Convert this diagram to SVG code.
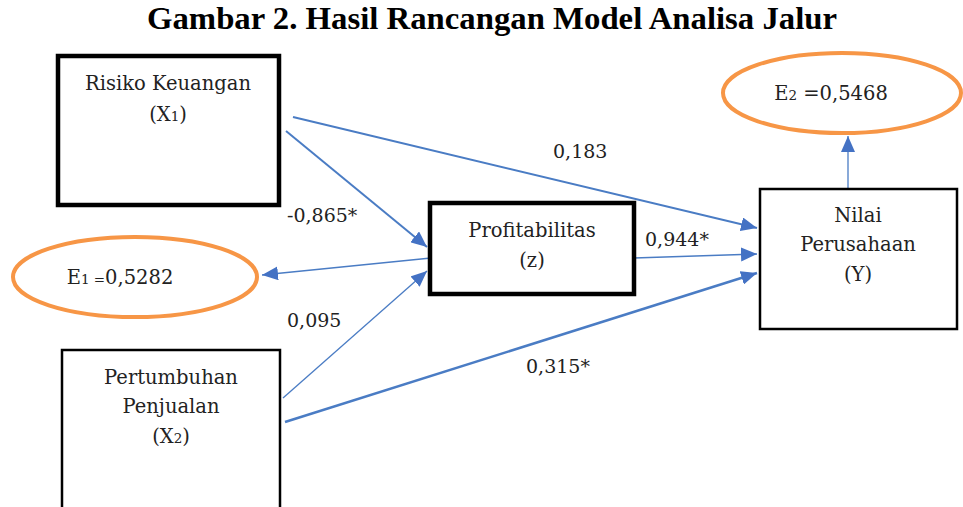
<svg xmlns="http://www.w3.org/2000/svg" width="963" height="507" viewBox="0 0 963 507">
<style>
.t{font-family:"DejaVu Serif","Liberation Serif",serif;font-size:19.5px;fill:#222;text-anchor:middle}
.lbl{font-family:"DejaVu Serif","Liberation Serif",serif;font-size:19px;fill:#222}
.sub{font-size:13.5px}
.title{font-family:"Liberation Serif","DejaVu Serif",serif;font-size:31px;font-weight:bold;fill:#000;text-anchor:middle}
.thick{fill:#fff;stroke:#000;stroke-width:4.5}
.thin{fill:#fff;stroke:#000;stroke-width:2.5}
.ell{fill:#fff;stroke:#F79646;stroke-width:4}
.c{stroke:#4A7CC4;fill:none;marker-end:url(#ah)}
</style>
<defs>
<marker id="ah" markerUnits="userSpaceOnUse" markerWidth="18" markerHeight="14" refX="16" refY="7" orient="auto">
<path d="M0,0 L16,7 L0,14 Z" fill="#4472C4"/>
</marker>
</defs>
<rect width="963" height="507" fill="#fff"/>
<text class="title" x="492" y="29" textLength="690" lengthAdjust="spacingAndGlyphs">Gambar 2. Hasil Rancangan Model Analisa Jalur</text>

<g id="connectors">
<line class="c" x1="293" y1="117" x2="757" y2="228" stroke-width="2"/>
<line class="c" x1="286" y1="131" x2="427" y2="247" stroke-width="2"/>
<line class="c" x1="431" y1="258" x2="262" y2="275" stroke-width="1.3"/>
<line class="c" x1="283" y1="398" x2="427" y2="271" stroke-width="1.3"/>
<line class="c" x1="634" y1="258" x2="757" y2="254" stroke-width="1.5"/>
<line class="c" x1="285" y1="422" x2="757" y2="273" stroke-width="2.5"/>
<line class="c" x1="848" y1="188" x2="848" y2="136" stroke-width="1.3"/>
</g>

<g id="x1">
<rect class="thick" x="58" y="56" width="221" height="149"/>
<text class="t" x="168" y="90">Risiko Keuangan</text>
<text class="t" x="168" y="121">(X<tspan class="sub">1</tspan>)</text>
</g>

<g id="x2">
<rect class="thin" x="62" y="350" width="218" height="170"/>
<text class="t" x="171" y="384">Pertumbuhan</text>
<text class="t" x="171" y="413">Penjualan</text>
<text class="t" x="171" y="443">(X<tspan class="sub">2</tspan>)</text>
</g>

<g id="z">
<rect class="thick" x="430" y="203" width="204" height="91"/>
<text class="t" x="532" y="237">Profitabilitas</text>
<text class="t" x="532" y="267">(z)</text>
</g>

<g id="y">
<rect class="thin" x="760" y="189" width="197" height="140"/>
<text class="t" x="858" y="222">Nilai</text>
<text class="t" x="858" y="251">Perusahaan</text>
<text class="t" x="858" y="281">(Y)</text>
</g>

<g id="e1">
<ellipse class="ell" cx="135" cy="277" rx="122" ry="40"/>
<text class="t" x="120" y="284">E<tspan class="sub">1 =</tspan>0,5282</text>
</g>

<g id="e2">
<ellipse class="ell" cx="842" cy="93" rx="119" ry="40"/>
<text class="t" x="831" y="100">E<tspan class="sub">2</tspan> =0,5468</text>
</g>

<g id="labels">
<text class="lbl" x="553" y="158">0,183</text>
<text class="lbl" x="287" y="222">-0,865*</text>
<text class="lbl" x="645" y="246">0,944*</text>
<text class="lbl" x="287" y="327">0,095</text>
<text class="lbl" x="526" y="373">0,315*</text>
</g>
</svg>
